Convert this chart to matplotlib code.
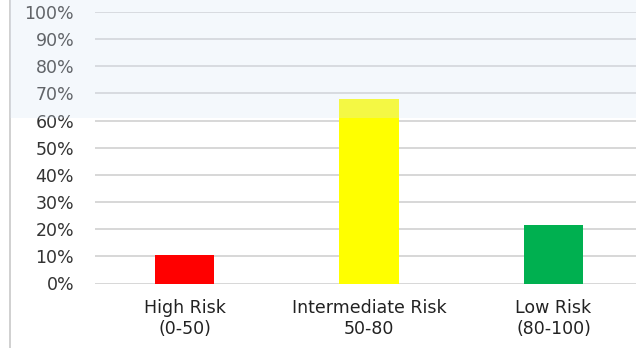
import matplotlib.pyplot as plt
from matplotlib.patches import Rectangle
import numpy as np

# Risk groups and their share of patients (%)
categories = ["High Risk\n(0-50)", "Intermediate Risk\n50-80", "Low Risk\n(80-100)"]
shares = [10.5, 68, 21.5]
colors = ["#ff0000", "#ffff00", "#00b050"]
yticks = list(range(0, 101, 10))

W, H = 636, 348
fig = plt.figure(figsize=(W / 100, H / 100), dpi=100)
ax = fig.add_axes([95 / W, 1 - 283.5 / H, 1 - 95 / W, (283.5 - 12) / H])

x = np.arange(len(categories))
ax.bar(x, shares, width=0.32, color=colors, zorder=3)

ax.set_xlim(-0.485, 2.447)
ax.set_ylim(0, 100)
ax.set_yticks(yticks)
ax.set_yticklabels([f"{v}%" for v in yticks])
ax.set_xticks(x)
ax.set_xticklabels(categories, linespacing=1.2)
ax.tick_params(axis="y", length=0, pad=15, labelsize=12.5, labelcolor="#333333")
ax.tick_params(axis="x", length=0, pad=11, labelsize=12.5, labelcolor="#222222")
ax.grid(axis="y", color="#d4d4d4", linewidth=1.3, zorder=0)
for s in ax.spines.values():
    s.set_visible(False)

# thin frame line down the left side
fig.add_artist(plt.Line2D([10 / W, 10 / W], [0, 1], color="#c8c8c8", lw=1.2))

# pale blue band over the upper part of the chart
fig.add_artist(Rectangle((10 / W, 1 - 118 / H), 1 - 10 / W, 118 / H,
                         transform=fig.transFigure, facecolor="#d9e6f5",
                         alpha=0.28, edgecolor="none", zorder=10))

fig.savefig("out.png", dpi=100)
